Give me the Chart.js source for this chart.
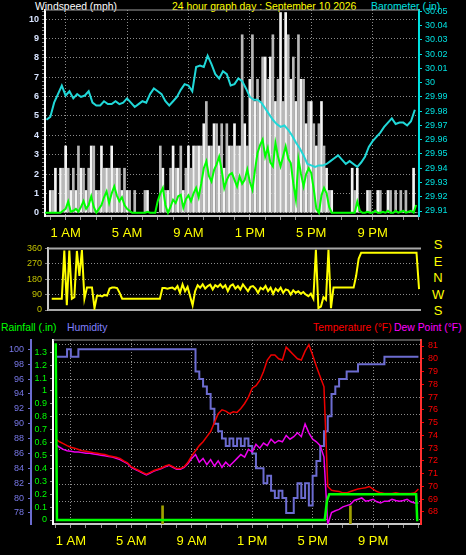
<!DOCTYPE html>
<html>
<head>
<meta charset="utf-8">
<script src="https://cdn.jsdelivr.net/npm/chart.js@4.4.1/dist/chart.umd.min.js"></script>
<style>
  body { margin: 0; background: #000; width: 466px; height: 555px; overflow: hidden; position: relative; font-family: "Liberation Sans", Arial, sans-serif; }
  canvas { position: absolute; left: 0; }
  .t { position: absolute; font-size: 10.4px; line-height: 11px; white-space: nowrap; }
  .d { position: absolute; left: 432px; width: 12px; text-align: center; font-size: 13px; line-height: 13px; color: #ffff00; }
</style>
</head>
<body>
<div class="t" style="left:35px;top:1px;color:#fff">Windspeed (mph)</div>
<div class="t" style="left:172px;top:1px;color:#ffff00">24 hour graph day : September 10 2026</div>
<div class="t" style="left:371px;top:1px;color:#00e0e0">Barometer (.in)</div>
<div class="d" style="top:238px">S</div>
<div class="d" style="top:255px">E</div>
<div class="d" style="top:271px">N</div>
<div class="d" style="top:288px">W</div>
<div class="d" style="top:304px">S</div>
<div class="t" style="left:1px;top:322px;color:#00ff00">Rainfall (.in)</div>
<div class="t" style="left:67px;top:322px;color:#8080ff">Humidity</div>
<div class="t" style="left:313px;top:322px;color:#ff0000">Temperature (°F)</div>
<div class="t" style="left:394px;top:322px;color:#ff00ff">Dew Point (°F)</div>

<canvas id="wind" width="466" height="250" style="top:0"></canvas>
<canvas id="dir" width="466" height="80" style="top:240px"></canvas>
<canvas id="temp" width="466" height="235" style="top:320px"></canvas>

<script>
// x axis = hours of the day
const tickHours = [1, 5, 9, 13, 17, 21];
const tickNames = ['1 AM', '5 AM', '9 AM', '1 PM', '5 PM', '9 PM'];

// wind, 10 minute samples starting 23:40 the day before
const windStart = -1 / 3, windStep = 1 / 6;
const gust = [0, 0,
  1.15, 1.15, 2.3, 0, 2.3, 2.3,
  3.45, 2.3, 1.15, 2.3, 1.15, 3.45,
  2.3, 2.3, 1.15, 2.3, 3.45, 3.45,
  1.15, 1.15, 3.45, 2.3, 2.3, 2.3,
  3.45, 2.3, 2.3, 2.3, 1.15, 2.3,
  1.15, 1.15, 0, 1.15, 0, 0,
  0, 1.15, 1.15, 0, 0, 0,
  0, 3.45, 2.3, 1.15, 1.15, 2.3,
  3.45, 2.3, 2.3, 3.45, 1.15, 2.3,
  3.45, 2.3, 3.45, 3.45, 3.45, 3.45,
  4.6, 5.75, 3.45, 3.45, 4.6, 4.6,
  3.45, 4.6, 2.3, 4.6, 3.45, 3.45,
  4.6, 3.45, 3.45, 9.2, 4.6, 3.45,
  6.9, 9.2, 5.75, 6.9, 5.75, 8.05,
  8.05, 6.9, 8.05, 9.2, 5.75, 6.9,
  10.35, 5.75, 10.35, 9.2, 6.9, 8.05,
  5.75, 9.2, 6.9, 6.9, 4.6, 5.75,
  5.75, 4.6, 3.45, 4.6, 5.75, 3.45,
  2.3, 1.15, 1.15, 0, 0, 0,
  0, 0, 0, 0, 2.3, 1.15,
  2.3, 0, 0, 0, 1.15, 1.15,
  0, 0, 1.15, 1.15, 0, 0,
  1.15, 1.15, 0, 1.15, 0, 1.15,
  0, 1.15, 0, 0, 2.3, 0];
const windAvg = [0, 0,
  0, 0, 0, 0, 0, 0.1,
  0.2, 0.58, 0.05, 0.1, 0.2, 0.05,
  0.3, 0.6, 0.2, 0.4, 0.85, 0.3,
  0, 0.2, 0.4, 0.8, 1.1, 0.5,
  1.0, 1.36, 0.9, 0.6, 0.8, 0.4,
  0.2, 0.1, 0, 0, 0, 0,
  0, 0, 0.05, 0, 0, 0,
  0.6, 1.0, 1.28, 0.4, 0, 0.3,
  0.67, 0.5, 0.85, 0.93, 0.26, 0.7,
  0.9, 0.6, 1.0, 1.28, 0.8, 1.5,
  2.3, 2.66, 1.9, 1.62, 2.2, 2.5,
  2.9, 2.2, 1.28, 1.7, 1.97, 2.05,
  1.7, 1.36, 1.88, 1.5, 1.7, 2.23,
  1.6, 1.19, 2.2, 3.09, 3.5, 3.78,
  2.9, 3.35, 2.6, 2.4, 3.6, 2.9,
  2.4, 2.9, 3.43, 2.8, 2.57, 1.5,
  0.67, 2.75, 2.0, 1.36, 2.0, 2.3,
  2.05, 1.2, 0.2, 0, 0.9, 1.28,
  1.0, 0.3, 0, 0, 0, 0,
  0, 0, 0, 0, 0, 0,
  0.58, 0.1, 0, 0, 0.05, 0,
  0, 0.1, 0, 0, 0.05, 0,
  0.1, 0, 0, 0.1, 0, 0.05,
  0.1, 0, 0.05, 0.1, 0, 0.4];

// barometer, 15 minute samples from 23:45
const baroStart = -0.25, baroStep = 0.25;
const barometer = [29.974,
  29.976, 29.986, 29.992, 29.998, 29.991, 29.994, 29.989, 29.992,
  29.990, 29.991, 29.994, 29.986, 29.984, 29.984, 29.987, 29.985,
  29.985, 29.987, 29.985, 29.986, 29.989, 29.986, 29.983, 29.985,
  29.987, 29.986, 29.992, 29.996, 29.994, 29.992, 29.987, 29.984,
  29.987, 29.990, 29.995, 29.999, 29.998, 29.994, 30.011, 30.012,
  30.011, 30.019, 30.013, 30.006, 30.003, 30.008, 30.006, 29.998,
  29.999, 30.003, 30.001, 29.996, 29.990, 29.988, 29.988, 29.986,
  29.982, 29.978, 29.974, 29.971, 29.969, 29.970, 29.967, 29.963,
  29.958, 29.954, 29.949, 29.943, 29.942, 29.941, 29.942, 29.942,
  29.943, 29.945, 29.947, 29.949, 29.946, 29.943, 29.945, 29.943,
  29.941, 29.944, 29.948, 29.955, 29.959, 29.962, 29.965, 29.969,
  29.972, 29.975, 29.971, 29.972, 29.972, 29.970, 29.973, 29.981];

// wind direction (degrees), 10 minute samples from 23:40
const dirStart = -1 / 3, dirStep = 1 / 6;
const direction = [66, 66,
  66, 66, 66, 347, 28, 347,
  66, 75, 345, 200, 350, 66,
  131, 131, 131, 11, 84, 84,
  80, 88, 84, 125, 131, 131,
  128, 100, 66, 66, 66, 66,
  66, 66, 66, 66, 66, 66,
  66, 66, 66, 66, 66, 66,
  128, 128, 125, 128, 131, 120,
  140, 100, 150, 110, 135, 80,
  28, 110, 145, 130, 150, 125,
  140, 148, 120, 145, 135, 150,
  130, 145, 110, 140, 150, 125,
  140, 120, 150, 130, 110, 135,
  140, 125, 100, 130, 120, 140,
  110, 130, 95, 125, 110, 130,
  100, 120, 115, 90, 115, 100,
  110, 95, 105, 90, 80, 95,
  66, 352, 11, 20, 75, 60,
  352, 11, 131, 131, 131, 131,
  131, 131, 131, 131, 131, 200,
  300, 334, 334, 334, 334, 334,
  334, 334, 334, 334, 334, 334,
  334, 334, 334, 334, 334, 334,
  334, 334, 334, 334, 334, 334,
  122];

// humidity / temperature / dew point, 15 minute samples from midnight
const thStart = 0, thStep = 0.25;
const humidity = [
  99, 99, 99, 100, 99, 99, 100, 100,
  100, 100, 100, 100, 100, 100, 100, 100, 100, 100, 100, 100, 100, 100,
  100, 100, 100, 100, 100, 100, 100, 100, 100, 100, 100, 100, 100, 100,
  100, 97, 96, 95, 94, 92, 90, 89, 88, 87, 88, 87, 88, 87, 88, 87,
  86, 84, 84, 82, 83, 81, 80, 81, 80, 78, 78, 80, 82, 80, 82, 79,
  83, 85, 87, 89, 91, 94, 95, 96, 96, 97, 97, 97, 98, 98, 98, 98,
  98, 98, 98, 99, 99, 99, 99, 99, 99, 99, 99, 99, 99];
const temperature = [
  73.7, 73.5, 73.35, 73.2, 73.07, 73.0, 72.9, 72.8,
  72.75, 72.7, 72.65, 72.6, 72.55, 72.5, 72.4, 72.35,
  72.28, 72.2, 72.0, 71.85, 71.55, 71.4, 71.25, 71.1,
  70.97, 71.1, 71.25, 71.35, 71.45, 71.6, 71.7, 71.55,
  71.4, 71.4, 71.55, 71.9, 72.4, 72.8, 73.2, 73.5,
  73.9, 74.3, 75.0, 75.7, 76.0, 75.9, 75.7, 75.85,
  75.8, 76.1, 76.5, 77.0, 77.7, 77.9, 78.3, 79.0,
  79.9, 80.3, 80.3, 80.0, 79.9, 80.9, 80.6, 80.3,
  80.0, 79.9, 80.6, 81.1, 80.3, 79.4, 78.6, 77.8,
  70.0, 69.7, 69.65, 69.6, 69.5, 69.5, 69.6, 69.7,
  69.8, 69.85, 69.9, 70.0, 69.8, 69.6, 69.5, 69.45,
  69.45, 69.45, 69.5, 69.45, 69.45, 69.45, 69.45, 69.5,
  69.8];
const dewPoint = [
  73.3, 73.07, 72.9, 72.8, 72.75, 72.7, 72.7, 72.65,
  72.6, 72.6, 72.55, 72.5, 72.45, 72.4, 72.35, 72.3,
  72.2, 72.1, 71.95, 71.8, 71.5, 71.35, 71.2, 71.05,
  70.9, 71.05, 71.2, 71.3, 71.4, 71.55, 71.65, 71.5,
  71.35, 71.35, 71.5, 71.8, 72.2, 72.5, 71.9, 72.2,
  71.7, 72.1, 71.6, 72.0, 71.5, 71.9, 71.6, 71.9,
  72.2, 72.5, 72.3, 72.9, 72.7, 73.3, 73.0, 73.4,
  73.2, 73.7, 73.4, 73.6, 73.5, 74.0, 73.7, 73.9,
  74.2, 73.9, 74.9, 74.2, 73.7, 73.5, 73.2, 72.3,
  67.0, 67.95, 68.1, 68.2, 68.4, 68.5, 68.6, 68.9,
  69.0, 69.1, 68.85, 68.9, 69.0, 68.8, 68.7, 68.85,
  68.85, 69.0, 68.9, 68.85, 68.9, 69.0, 68.8, 68.7,
  68.7];

// rainfall total (in), only the changes
const rainTimes = [0, 0.08, 17.8, 17.95, 18.1, 23.85, 23.92, 24];
const rainfall = [1.37, 0, 0, 0.15, 0.2, 0.2, 0, 0];

// sunrise / sunset markers (hours)
const sunTimes = [7.07, 19.5];

const family = '"Liberation Sans", Arial, sans-serif';
Chart.defaults.font.family = family;
Chart.defaults.animation = false;

const pts = (vals, start, step) => vals.map((y, i) => ({ x: start + i * step, y }));
const isInt = v => Math.abs(v - Math.round(v)) < 1e-6;
const hourLabel = v => { const k = tickHours.indexOf(Math.round(v)); return k < 0 ? '' : tickNames[k]; };
const dotted = '#8c8c8c';
const none = 'rgba(0,0,0,0)';

// draws a solid line on top and/or bottom of the plot area
const frame = {
  id: 'frame',
  beforeDatasetsDraw(chart, args, opts) {
    const { ctx, chartArea: a } = chart;
    ctx.save();
    ctx.strokeStyle = opts.color;
    ctx.lineWidth = opts.width;
    (opts.edges || []).forEach(e => {
      const y = e === 'top' ? a.top : a.bottom;
      ctx.beginPath();
      ctx.moveTo(a.left, y);
      ctx.lineTo(a.right, y);
      ctx.stroke();
    });
    ctx.restore();
  }
};

function timeAxis(min, max, height) {
  return {
    type: 'linear', min, max, offset: false,
    afterBuildTicks: s => { s.ticks = Array.from({ length: 25 }, (_, h) => ({ value: h })); },
    afterFit: s => { s.height = height; },
    ticks: { autoSkip: false, maxRotation: 0, color: '#ffff00', font: { size: 13 }, padding: 6, callback: hourLabel },
    grid: { offset: false, color: c => (c.tick && tickHours.includes(c.tick.value)) ? dotted : none, tickColor: '#909090', tickLength: 4 },
    border: { color: '#c8c8c8', width: 2, dash: [1, 2] }
  };
}

const common = {
  responsive: false,
  animation: false,
  events: [],
  plugins: { legend: { display: false }, tooltip: { enabled: false } },
  elements: { point: { radius: 0 }, line: { tension: 0 } }
};

// ---------- wind speed + barometer ----------
new Chart(document.getElementById('wind'), {
  type: 'line',
  plugins: [frame],
  data: {
    datasets: [
      { type: 'line', data: pts(windAvg, windStart, windStep), yAxisID: 'ws', borderColor: '#00ff00', borderWidth: 2, order: 1 },
      { type: 'line', data: pts(barometer, baroStart, baroStep), yAxisID: 'baro', borderColor: '#20d8d8', borderWidth: 2, order: 2 },
      { type: 'bar', data: pts(gust, windStart, windStep), yAxisID: 'ws', barThickness: 2,
        backgroundColor: c => c.dataIndex % 2 ? '#b8b8b8' : '#f4f4f4', order: 3 }
    ]
  },
  options: {
    ...common,
    layout: { padding: { top: 10 } },
    plugins: { ...common.plugins, frame: { color: '#a0a0a0', width: 1, edges: ['top'] } },
    scales: {
      x: timeAxis(-0.345, 24.02, 34),
      ws: {
        position: 'left', min: -0.17, max: 10.48,
        afterBuildTicks: s => { s.ticks = Array.from({ length: 53 }, (_, k) => ({ value: k / 5 })); },
        afterFit: s => { s.width = 45; },
        ticks: { autoSkip: false, color: '#d8e4ff', font: { size: 9, weight: 'bold' }, padding: 3, callback: v => isInt(v) ? Math.round(v) : '' },
        grid: { color: c => (c.tick && isInt(c.tick.value)) ? dotted : none, tickColor: '#808080', tickLength: 3 },
        border: { color: '#ffffff', width: 2, dash: [1, 2] }
      },
      baro: {
        position: 'right', min: 29.9065, max: 30.051,
        afterBuildTicks: s => { s.ticks = Array.from({ length: 15 }, (_, k) => ({ value: Math.round(2991 + k) / 100 })); },
        afterFit: s => { s.width = 47; },
        ticks: { autoSkip: false, color: '#00e0e0', font: { size: 9 }, padding: 3, callback: v => String(+v.toFixed(2)) },
        grid: { drawOnChartArea: false, tickColor: '#00e0e0', tickLength: 3 },
        border: { color: '#00e0e0', width: 2 }
      }
    }
  }
});

// ---------- wind direction ----------
new Chart(document.getElementById('dir'), {
  type: 'line',
  plugins: [frame],
  data: {
    datasets: [
      { data: pts(direction, dirStart, dirStep), yAxisID: 'y', borderColor: '#ffff00', borderWidth: 2 }
    ]
  },
  options: {
    ...common,
    layout: { padding: { top: 6, bottom: 10, right: 45 } },
    plugins: { ...common.plugins, frame: { color: '#a8a8a8', width: 2, edges: ['top', 'bottom'] } },
    scales: {
      x: { type: 'linear', min: -0.58, max: 24.13, display: false },
      y: {
        position: 'left', min: 0, max: 360,
        afterBuildTicks: s => { s.ticks = [0, 90, 180, 270, 360].map(value => ({ value })); },
        afterFit: s => { s.width = 48; },
        ticks: { autoSkip: false, color: '#c0c000', font: { size: 9 }, padding: 3 },
        grid: { color: c => (c.tick && c.tick.value % 360 !== 0) ? dotted : none, tickColor: '#808080', tickLength: 3 },
        border: { color: '#c8c8c8', width: 2, dash: [1, 2] }
      }
    }
  }
});

// ---------- rain / humidity / temperature / dew point ----------
new Chart(document.getElementById('temp'), {
  type: 'line',
  plugins: [frame],
  data: {
    datasets: [
      { data: rainTimes.map((x, i) => ({ x, y: rainfall[i] })), yAxisID: 'rain', borderColor: '#00ff00', borderWidth: 2.5, order: 0 },
      { data: pts(temperature, thStart, thStep), yAxisID: 'temp', borderColor: '#ee0000', borderWidth: 1.5, order: 1 },
      { data: pts(dewPoint, thStart, thStep), yAxisID: 'temp', borderColor: '#ee00ee', borderWidth: 1.5, order: 2 },
      { data: pts(humidity, thStart, thStep), yAxisID: 'hum', borderColor: '#6c6cd0', borderWidth: 2, stepped: true, order: 3 },
      { type: 'bar', data: sunTimes.map(x => ({ x, y: [-0.03, 0.11] })), yAxisID: 'rain', backgroundColor: '#a0a000', barThickness: 2, order: 4 }
    ]
  },
  options: {
    ...common,
    layout: { padding: { top: 20 } },
    plugins: { ...common.plugins, frame: { color: '#a0a0a0', width: 1, edges: ['top'] } },
    scales: {
      x: timeAxis(-0.18, 24.17, 31),
      hum: {
        position: 'left', weight: 2, min: 76.52, max: 101.25,
        afterBuildTicks: s => { s.ticks = Array.from({ length: 12 }, (_, k) => ({ value: 78 + 2 * k })); },
        afterFit: s => { s.width = 31; },
        ticks: { autoSkip: false, color: '#7878e8', font: { size: 9 }, padding: 4 },
        grid: { drawOnChartArea: false, tickColor: '#6c6cd0', tickLength: 3 },
        border: { color: '#6c6cd0', width: 2 }
      },
      rain: {
        position: 'left', weight: 1, min: -0.031, max: 1.395,
        afterBuildTicks: s => { s.ticks = Array.from({ length: 14 }, (_, k) => ({ value: k / 10 })); },
        afterFit: s => { s.width = 22; },
        ticks: { autoSkip: false, color: '#00ff00', font: { size: 9 }, padding: 3, callback: v => String(+v.toFixed(1)) },
        grid: { drawOnChartArea: false, tickColor: '#909090', tickLength: 3 },
        border: { color: '#ffffff', width: 2 }
      },
      temp: {
        position: 'right', weight: 1, min: 67.06, max: 81.47,
        afterBuildTicks: s => { s.ticks = Array.from({ length: 14 }, (_, k) => ({ value: 68 + k })); },
        afterFit: s => { s.width = 45; },
        ticks: { autoSkip: false, color: '#ff0000', font: { size: 9 }, padding: 4 },
        grid: { drawOnChartArea: false, tickColor: '#ff0000', tickLength: 3 },
        border: { color: '#ff3030', width: 2 }
      },
      grid10: {
        position: 'right', weight: 0, min: -0.287, max: 10.287,
        afterBuildTicks: s => { s.ticks = Array.from({ length: 11 }, (_, k) => ({ value: k })); },
        afterFit: s => { s.width = 0; },
        ticks: { display: false },
        grid: { color: dotted, drawTicks: false },
        border: { display: false, dash: [1, 2] }
      }
    }
  }
});
</script>
</body>
</html>
